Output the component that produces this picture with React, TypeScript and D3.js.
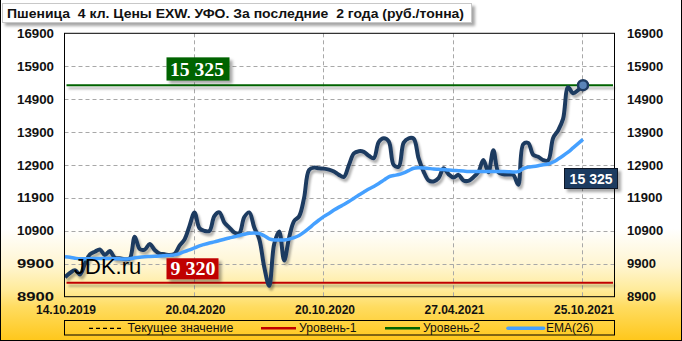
import React from 'react';
import * as d3 from 'd3';

const W = 682;
const H = 341;

const title = 'Пшеница  4 кл. Цены EXW. УФО. За последние  2 года (руб./тонна)';

const priceValues = [
  9490, 9620, 9707, 9576, 9900, 10184, 10265, 10336, 10163, 10285,
  10082, 10070, 10040, 10060, 10720, 10350, 10330, 10500, 10320, 10210,
  10190, 10165, 10200, 10450, 10640, 11050, 11460, 10980, 10900, 10900,
  11350, 11460, 11150, 11000, 10850, 10830, 11320, 11460, 11000, 10650,
  9800, 9230, 10500, 10880, 10000, 10700, 11200, 11340, 11900, 12750,
  12820, 12800, 12790, 12760, 12700, 12600, 12540, 12900, 13250, 13320,
  13300, 13180, 13110, 13600, 13710, 13620, 12900, 12850, 13580, 13710,
  13700, 13100, 12700, 12430, 12400, 12500, 12800, 12620, 12520, 12600,
  12430, 12420, 12530, 12690, 13050, 12680, 13350, 12680, 12620, 12610,
  12600, 12300, 13530, 13570, 13210, 13150, 13050, 13040, 13720, 13950,
  14300, 15260, 15080, 15170, 15325,
];

const emaValues = [
  10115, 10095, 10070, 10050, 10052, 10056, 10060, 10060, 10060, 10060,
  10056, 10050, 10046, 10055, 10080, 10100, 10112, 10120, 10128, 10135,
  10145, 10155, 10170, 10210, 10270, 10320, 10380, 10445, 10490, 10530,
  10565, 10605, 10645, 10685, 10720, 10760, 10795, 10825, 10835, 10820,
  10750, 10660, 10625, 10620, 10625, 10650, 10695, 10760, 10860, 10980,
  11110, 11230, 11340, 11430, 11530, 11620, 11700, 11790, 11890, 11990,
  12080, 12170, 12250, 12340, 12440, 12540, 12580, 12610, 12660, 12730,
  12800, 12815, 12810, 12795, 12780, 12770, 12760, 12745, 12735, 12725,
  12715, 12705, 12700, 12700, 12700, 12700, 12705, 12705, 12700, 12695,
  12690, 12700, 12790, 12835, 12855, 12880, 12910, 12930, 12990, 13080,
  13180, 13290, 13420, 13550, 13680,
];

const yTicks = [8900, 9900, 10900, 11900, 12900, 13900, 14900, 15900, 16900];
const xLabels = ['14.10.2019', '20.04.2020', '20.10.2020', '27.04.2021', '25.10.2021'];
const xLabelIndex = [0, 26, 52, 78, 104];

const level1 = 9320;
const level2 = 15325;
const currentValue = 15325;

const legendLabels = ['Текущее значение', 'Уровень-1', 'Уровень-2', 'EMA(26)'];

const fmt = (v: number) => d3.format(',')(v).replace(/,/g, ' ');

export default function App() {
  const plotL = 64.5, plotR = 614.5, plotT = 33.3, plotB = 296.7;
  const x = d3.scaleLinear().domain([0, 104]).range([65, 583]);
  const y = d3.scaleLinear().domain([8900, 16900]).range([plotB, plotT]);

  const line = d3
    .line<number>()
    .x((_, i) => x(i))
    .y((d) => y(d))
    .curve(d3.curveCatmullRom.alpha(0.5));

  const sans = 'Liberation Sans, Arial, sans-serif';
  const serif = 'Liberation Serif, Times New Roman, serif';
  const navy = '#1F3A60';
  const ema = '#45A0FF';
  const green = '#006400';
  const red = '#C00000';

  const yL1 = y(level1);
  const yL2 = y(level2);

  return (
    <svg
      width={W}
      height={H}
      style={{ position: 'absolute', left: 0, top: 0, display: 'block' }}
    >
      <defs>
        <linearGradient id="bg" x1="0" y1="0" x2="0" y2="1">
          <stop offset="0" stopColor="#FFFFFF" />
          <stop offset="0.67" stopColor="#FFFFFF" />
          <stop offset="0.78" stopColor="#FFF5D0" />
          <stop offset="0.85" stopColor="#FFEB9A" />
          <stop offset="0.9" stopColor="#FFDC60" />
          <stop offset="1" stopColor="#FFC71A" />
        </linearGradient>
        <filter id="sh" filterUnits="userSpaceOnUse" x={0} y={0} width={W} height={H}>
          <feDropShadow dx="2" dy="3" stdDeviation="1.2" floodColor="#000" floodOpacity="0.3" />
        </filter>
        <filter id="shb" filterUnits="userSpaceOnUse" x={0} y={0} width={W} height={H}>
          <feDropShadow dx="3" dy="3" stdDeviation="1.5" floodColor="#000" floodOpacity="0.35" />
        </filter>
        <clipPath id="plotClip">
          <rect x={plotL} y={plotT} width={plotR - plotL} height={plotB - plotT} />
        </clipPath>
      </defs>

      <rect x={0} y={0} width={W} height={H} fill="url(#bg)" />
      <line x1={0.5} y1={0} x2={0.5} y2={H} stroke="#000" />
      <line x1={W - 0.5} y1={0} x2={W - 0.5} y2={H} stroke="#000" />
      <line x1={0} y1={H - 0.5} x2={W} y2={H - 0.5} stroke="#000" />

      {/* title */}
      <rect x={2.5} y={3.5} width={469} height={19} fill="#fff" stroke="#C8C8C8" filter="url(#shb)" />
      <text
        x={7}
        y={17.5}
        fontFamily={sans}
        fontWeight="bold"
        fontSize={13.5}
        textLength={457}
        lengthAdjust="spacingAndGlyphs"
        fill="#111"
        style={{ whiteSpace: 'pre' }}
      >
        {title}
      </text>

      {/* gridlines */}
      {yTicks.slice(1, -1).map((t) => (
        <line
          key={'hg' + t}
          x1={plotL}
          x2={plotR}
          y1={Math.round(y(t)) + 0.5}
          y2={Math.round(y(t)) + 0.5}
          stroke="#A8A8A8"
          strokeDasharray="4 3"
        />
      ))}
      {xLabelIndex.slice(1).map((i) => (
        <line
          key={'vg' + i}
          x1={Math.round(x(i)) - 0.5}
          x2={Math.round(x(i)) - 0.5}
          y1={plotT}
          y2={plotB}
          stroke="#A8A8A8"
          strokeDasharray="4 3"
        />
      ))}

      {/* levels */}
      <line x1={66.5} x2={613} y1={yL2} y2={yL2} stroke={green} strokeWidth={2} filter="url(#sh)" />
      <line x1={66.5} x2={613} y1={yL1} y2={yL1} stroke={red} strokeWidth={2} filter="url(#sh)" />

      {/* series */}
      <g clipPath="url(#plotClip)">
        <path d={line(priceValues) || ''} fill="none" stroke={navy} strokeWidth={4} strokeLinejoin="round" filter="url(#sh)" />
        <path d={line(emaValues) || ''} fill="none" stroke={ema} strokeWidth={3.5} strokeLinejoin="round" />
      </g>
      <circle
        cx={x(priceValues.length - 1)}
        cy={y(currentValue)}
        r={5}
        fill="#5B84B8"
        stroke={navy}
        strokeWidth={2.5}
      />

      {/* plot frame */}
      <rect x={plotL} y={plotT} width={plotR - plotL} height={plotB - plotT} fill="none" stroke="#000" />

      {/* watermark */}
      <text x={74} y={274} fontFamily={sans} fontSize={22} fill="#000">JDK.ru</text>

      {/* level labels */}
      <rect x={166.5} y={yL2 - 27.8} width={63} height={23.2} fill={green} filter="url(#shb)" />
      <text
        x={170}
        y={yL2 - 9.2}
        fontFamily={serif}
        fontWeight="bold"
        fontSize={19}
        fill="#fff"
        textLength={54}
        lengthAdjust="spacingAndGlyphs"
      >
        {fmt(level2)}
      </text>
      <rect x={166.5} y={yL1 - 24.6} width={52} height={21} fill={red} filter="url(#shb)" />
      <text
        x={170.4}
        y={yL1 - 7.9}
        fontFamily={serif}
        fontWeight="bold"
        fontSize={19}
        fill="#fff"
        textLength={45}
        lengthAdjust="spacingAndGlyphs"
      >
        {fmt(level1)}
      </text>

      {/* current value label */}
      <rect x={564.5} y={168.5} width={53} height={20} fill={navy} stroke="#0B1626" filter="url(#shb)" />
      <text
        x={569.6}
        y={183.6}
        fontFamily={sans}
        fontWeight="bold"
        fontSize={14}
        fill="#fff"
        textLength={43}
        lengthAdjust="spacingAndGlyphs"
      >
        {fmt(currentValue)}
      </text>

      {/* y axis labels */}
      {yTicks.map((t) => (
        <g key={'yl' + t}>
          <text
            x={54}
            y={y(t)}
            dy="0.35em"
            textAnchor="end"
            fontFamily={sans}
            fontWeight="bold"
            fontSize={13}
            fill="#111"
            textLength={37}
            lengthAdjust="spacingAndGlyphs"
          >
            {t}
          </text>
          <text
            x={627}
            y={y(t)}
            dy="0.35em"
            textAnchor="start"
            fontFamily={sans}
            fontWeight="bold"
            fontSize={13}
            fill="#111"
          >
            {t}
          </text>
        </g>
      ))}

      {/* x axis labels */}
      {xLabels.map((lab, k) => (
        <text
          key={lab}
          x={x(xLabelIndex[k]) + 1}
          y={314}
          textAnchor="middle"
          fontFamily={sans}
          fontWeight="bold"
          fontSize={12}
          fill="#111"
        >
          {lab}
        </text>
      ))}

      {/* legend */}
      <rect x={64.5} y={320.5} width={550} height={14.5} fill="none" stroke="#000" />
      <line x1={89} x2={122} y1={328.3} y2={328.3} stroke="#000" strokeWidth={1.3} strokeDasharray="4 3" />
      <text x={127.4} y={332.3} fontFamily={sans} fontSize={12} fill="#111" textLength={106} lengthAdjust="spacingAndGlyphs">
        {legendLabels[0]}
      </text>
      <line x1={261} x2={296} y1={328.3} y2={328.3} stroke={red} strokeWidth={2.5} />
      <text x={299} y={332.3} fontFamily={sans} fontSize={12} fill="#111" textLength={57.5} lengthAdjust="spacingAndGlyphs">
        {legendLabels[1]}
      </text>
      <line x1={385} x2={420} y1={328.3} y2={328.3} stroke={green} strokeWidth={2.5} />
      <text x={423} y={332.3} fontFamily={sans} fontSize={12} fill="#111" textLength={57} lengthAdjust="spacingAndGlyphs">
        {legendLabels[2]}
      </text>
      <line x1={508} x2={543.5} y1={328.3} y2={328.3} stroke={ema} strokeWidth={3.5} strokeLinecap="round" />
      <text x={546} y={332.3} fontFamily={sans} fontSize={12} fill="#111" textLength={47.5} lengthAdjust="spacingAndGlyphs">
        {legendLabels[3]}
      </text>
    </svg>
  );
}
